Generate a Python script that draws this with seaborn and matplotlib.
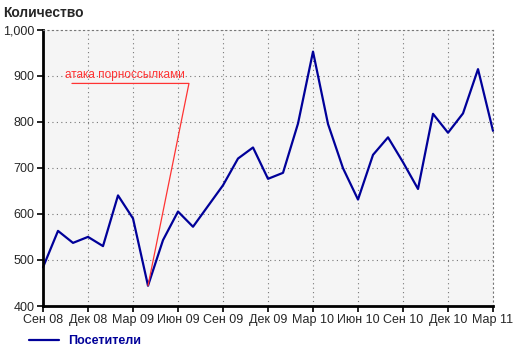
import numpy as np
import pandas as pd
import seaborn as sns
import matplotlib.pyplot as plt
from matplotlib.ticker import FuncFormatter

# Данные: посетители по месяцам (сен 2008 - мар 2011)
months = ["Сен 08", "Окт 08", "Ноя 08", "Дек 08", "Янв 09", "Фев 09", "Мар 09",
          "Апр 09", "Май 09", "Июн 09", "Июл 09", "Авг 09", "Сен 09", "Окт 09",
          "Ноя 09", "Дек 09", "Янв 10", "Фев 10", "Мар 10", "Апр 10", "Май 10",
          "Июн 10", "Июл 10", "Авг 10", "Сен 10", "Окт 10", "Ноя 10", "Дек 10",
          "Янв 11", "Фев 11", "Мар 11"]
visitors = [484, 563, 537, 550, 530, 640, 590, 444, 543, 605, 572, 617, 662,
            720, 744, 676, 689, 796, 952, 795, 699, 631, 728, 766, 712, 654,
            817, 776, 818, 914, 780]
tick_labels = months[::3]

# Аннотация
note_text = "атака порноссылками"
note_month = "Апр 09"

df = pd.DataFrame({"idx": range(len(months)), "month": months, "visitors": visitors})

sns.set_style("white")
plt.rcParams["font.family"] = ["Liberation Sans", "DejaVu Sans"]

fig = plt.figure(figsize=(5.2, 3.53), dpi=100)
ax = fig.add_axes([0.0827, 0.1331, 0.8654, 0.7833])
ax.set_facecolor("#f5f5f5")

sns.lineplot(data=df, x="idx", y="visitors", ax=ax, color="#000099",
             linewidth=1.6, label="Посетители")
for ln in ax.get_lines():
    ln.set_clip_on(False)

ax.set_xlim(0, len(months) - 1)
ax.set_ylim(400, 1000)
ax.set_xticks(range(0, len(months), 3))
ax.set_xticklabels(tick_labels)
ax.set_yticks(range(400, 1001, 100))
ax.yaxis.set_major_formatter(FuncFormatter(lambda v, p: f"{int(v):,}"))
ax.tick_params(axis="both", labelsize=9, length=4, width=1.2, color="black",
               direction="out", pad=2, bottom=True, left=True)
ax.grid(True, linestyle=(0, (1, 3)), color="#777777", linewidth=0.8)
ax.set_xlabel("")
ax.set_ylabel("")

for side in ["left", "bottom"]:
    ax.spines[side].set_color("black")
    ax.spines[side].set_linewidth(2)
for side in ["top", "right"]:
    ax.spines[side].set_color("#777777")
    ax.spines[side].set_linewidth(0.8)
    ax.spines[side].set_linestyle((0, (1, 3)))

# красная выноска
i = months.index(note_month)
ax.plot([1.93, 9.73, i], [883, 883, visitors[i]], color="#ff3333", linewidth=0.9)
ax.text(1.45, 889, note_text, color="#ff3333", fontsize=8.5, va="bottom")

fig.text(0.006, 0.962, "Количество", fontsize=10, fontweight="bold", va="center")

leg = ax.legend(loc="center left", bbox_to_anchor=(0.035, 0.034),
                bbox_transform=fig.transFigure, frameon=False,
                handlelength=2.4, handletextpad=0.7,
                prop={"weight": "bold", "size": 9})
for t in leg.get_texts():
    t.set_color("#000099")

fig.savefig("out.png", dpi=100)
